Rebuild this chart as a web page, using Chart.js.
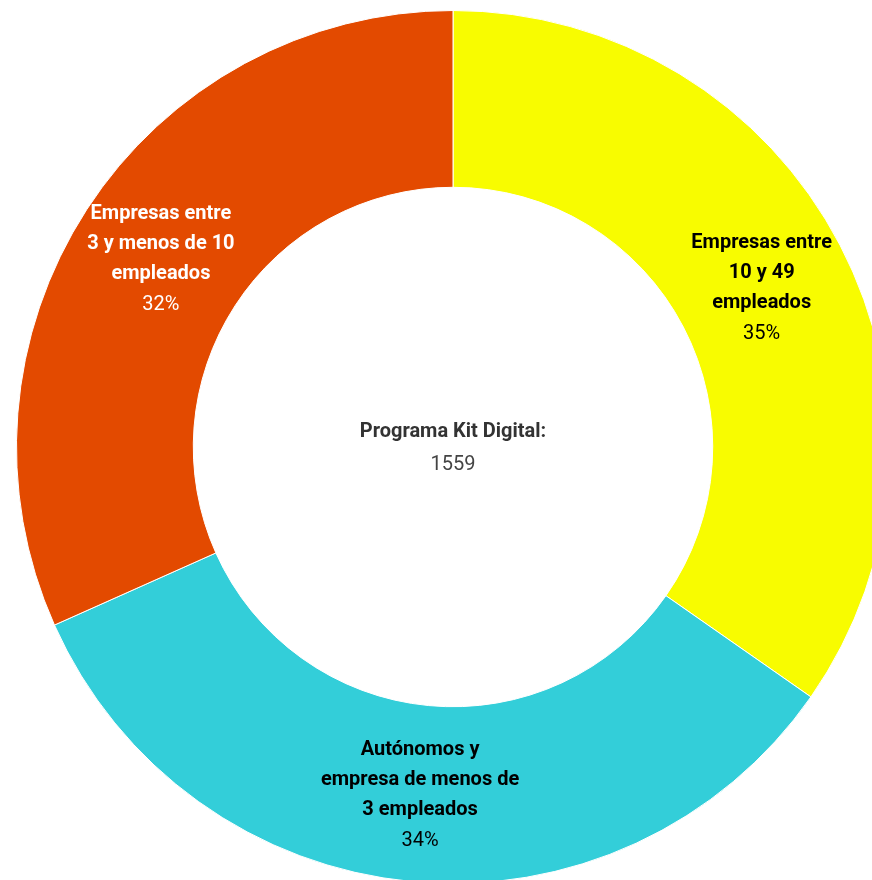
<!DOCTYPE html>
<html>
<head>
<meta charset="utf-8">
<script src="https://cdn.jsdelivr.net/npm/chart.js@4.4.1/dist/chart.umd.min.js"></script>
<style>
  html, body { margin: 0; padding: 0; background: #fff; overflow: hidden; width: 872px; height: 880px; }
  #wrap { position: absolute; left: 16px; top: 10px; width: 874px; height: 874px; }
</style>
</head>
<body>
<div id="wrap"><canvas id="kitChart"></canvas></div>
<script>
// Datos del gráfico
const categorias = [
  ["Empresas entre", "10 y 49", "empleados"],
  ["Autónomos y", "empresa de menos de", "3 empleados"],
  ["Empresas entre", "3 y menos de 10", "empleados"]
];
const valores = [541, 524, 494];
const colores = ["#f8fc00", "#33ced9", "#e34a00"];
const coloresTexto = ["#000000", "#000000", "#ffffff"];
const tituloCentro = "Programa Kit Digital:";
const totalCentro = "1559";

// Plugin sencillo para las etiquetas dentro de cada sector y el texto central
const etiquetasPlugin = {
  id: "etiquetas",
  afterDatasetsDraw(chart) {
    const ctx = chart.ctx;
    const meta = chart.getDatasetMeta(0);
    const total = valores.reduce((a, b) => a + b, 0);
    ctx.save();
    ctx.textAlign = "center";
    ctx.textBaseline = "middle";
    meta.data.forEach((arc, i) => {
      const p = arc.getCenterPoint();
      const lineas = categorias[i];
      const n = lineas.length + 1;
      const alto = 30;
      let y = p.y - (n - 1) * alto / 2 + 1.5;
      ctx.fillStyle = coloresTexto[i];
      ctx.font = "bold 20px Roboto";
      lineas.forEach(l => {
        ctx.fillText(l, p.x, y);
        y += alto;
      });
      ctx.font = "20px Roboto";
      ctx.fillText(Math.round(valores[i] / total * 100) + "%", p.x, y + 1);
    });

    // texto del centro
    const cx = meta.data[0].x;
    const cy = meta.data[0].y;
    ctx.fillStyle = "#333333";
    ctx.font = "bold 20px Roboto";
    ctx.fillText(tituloCentro, cx, cy - 15);
    ctx.fillStyle = "#444444";
    ctx.font = "20px Roboto";
    ctx.fillText(totalCentro, cx, cy + 18);
    ctx.restore();
  }
};

const chartCtx = document.getElementById("kitChart").getContext("2d");
const kitChart = new Chart(chartCtx, {
  type: "doughnut",
  data: {
    labels: categorias.map(c => c.join(" ")),
    datasets: [{
      data: valores,
      backgroundColor: colores,
      borderColor: "#ffffff",
      borderWidth: 1
    }]
  },
  options: {
    responsive: true,
    maintainAspectRatio: false,
    animation: false,
    cutout: "59.5%",
    layout: { padding: 0 },
    plugins: {
      legend: { display: false },
      tooltip: { enabled: false }
    }
  },
  plugins: [etiquetasPlugin]
});
</script>
</body>
</html>
